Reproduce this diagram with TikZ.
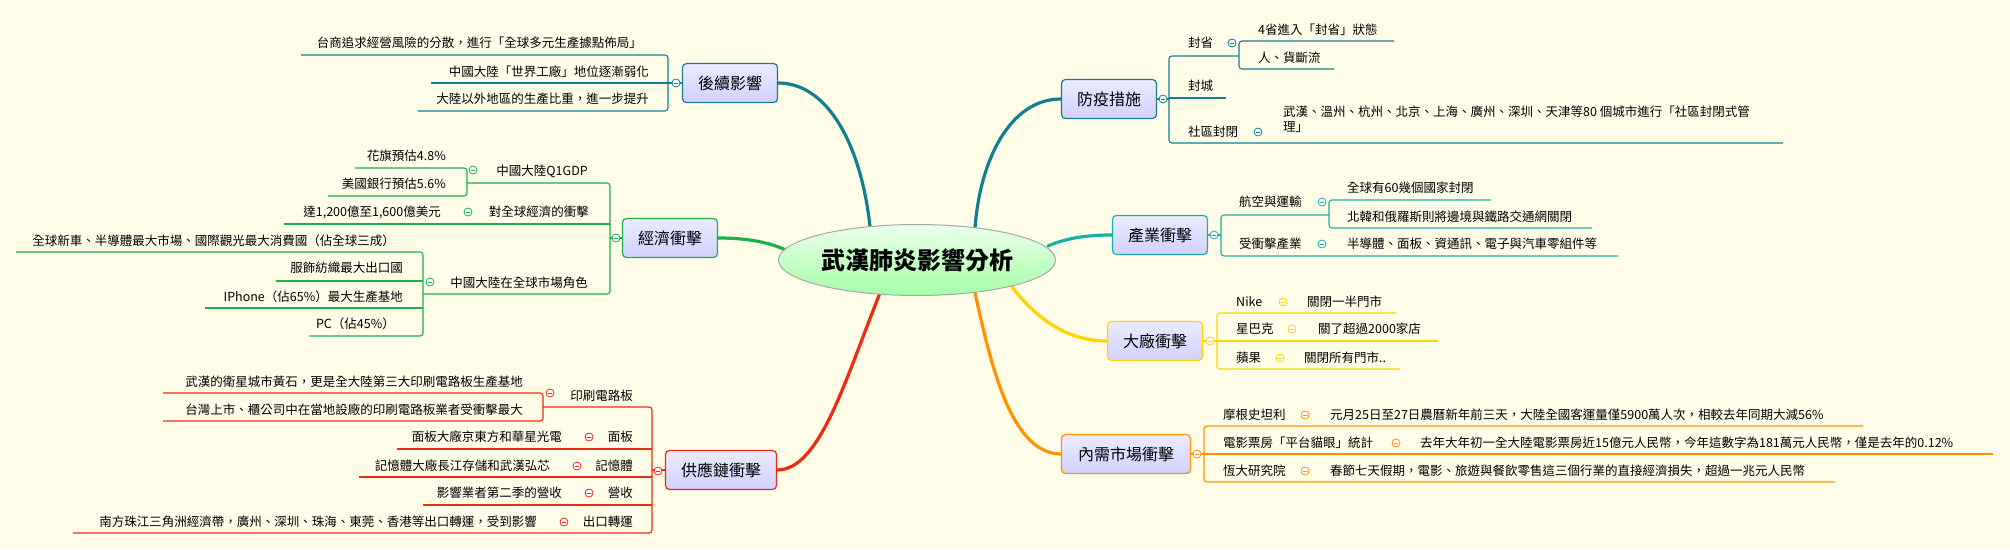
\documentclass[tikz,border=0pt]{standalone}
\usepackage{fontspec}
\setmainfont{Noto Sans CJK TC}
\usetikzlibrary{shapes.geometric}
\definecolor{bg}{HTML}{FFFDE8}
\definecolor{cA}{HTML}{137F8E}
\definecolor{cB}{HTML}{1DB04A}
\definecolor{cC}{HTML}{EE2A10}
\definecolor{cD}{HTML}{137F8E}
\definecolor{cE}{HTML}{18AFA6}
\definecolor{cF}{HTML}{FFD400}
\definecolor{cG}{HTML}{FF9200}
\tikzset{
 leaf/.style={inner sep=0pt, font=\fontsize{12.5}{15}\selectfont},
 branchbox/.style={draw=#1, line width=1.2pt, rounded corners=4pt, minimum width=95pt, minimum height=39pt,
   top color=white!92!blue, bottom color=blue!18!white, font=\fontsize{16}{18}\selectfont},
 mk/.style={circle, draw=#1, fill=white, minimum size=8pt, inner sep=0pt, line width=0.8pt,
   path picture={\draw[#1,line width=0.8pt] ([xshift=-2pt]path picture bounding box.center) -- ([xshift=2pt]path picture bounding box.center);}},
 ln/.style={draw=#1, line width=1.1pt, rounded corners=3pt},
 mainln/.style={draw=#1, line width=3.2pt, line cap=round}
}
\begin{document}
\begin{tikzpicture}[x=1pt,y=-1pt]
\fill[bg] (0,0) rectangle (2010,549);
\useasboundingbox (0,0) rectangle (2010,549);

% ---------- main connectors ----------
\coordinate (eA) at (870,227); \coordinate (eB) at (786,250); \coordinate (eC) at (880,293);
\coordinate (eD) at (975,228); \coordinate (eE) at (1048,246); \coordinate (eF) at (1012,287); \coordinate (eG) at (975,293);
\node[branchbox=cA] (A) at (730,83) {後續影響};
\node[branchbox=cB] (B) at (670,238) {經濟衝擊};
\node[branchbox=cC, minimum width=111pt] (C) at (721,470) {供應鏈衝擊};
\node[branchbox=cD] (D) at (1109,99) {防疫措施};
\node[branchbox=cE] (E) at (1160,235) {產業衝擊};
\node[branchbox=cF] (F) at (1155,341) {大廠衝擊};
\node[branchbox=cG, minimum width=129pt] (G) at (1126,454) {內需市場衝擊};
\draw[mainln=cA] (A.east) .. controls (830,83) and (862,150) .. (eA);
\draw[mainln=cB] (B.east) .. controls (750,238) and (770,243) .. (eB);
\draw[mainln=cC] (C.east) .. controls (820,470) and (845,380) .. (eC);
\draw[mainln=cD] (D.west) .. controls (1010,99) and (980,160) .. (eD);
\draw[mainln=cE] (E.west) .. controls (1080,235) and (1062,240) .. (eE);
\draw[mainln=cF] (F.west) .. controls (1060,341) and (1030,310) .. (eF);
\draw[mainln=cG] (G.west) .. controls (1010,454) and (990,360) .. (eG);
\node[ellipse, draw=gray!70, line width=1pt, minimum width=277pt, minimum height=71pt, inner sep=0pt,
  top color=green!8!white, bottom color=green!35!white, font=\fontsize{24}{26}\selectfont\bfseries] (root) at (917,260) {武漢肺炎影響分析};

% ---------- 後續影響 ----------
\draw[ln=cA] (301,55) -- (668,55) -- (668,111) -- (418,111);
\draw[ln=cA] (431,83) -- (A.west);
\node[mk=cA] at (676,83) {};
\node[leaf, anchor=east] (a1) at (642,43) {台商追求經營風險的分散，進行「全球多元生產據點佈局」};
\node[leaf, anchor=east] (a2) at (649,72) {中國大陸「世界工廠」地位逐漸弱化};
\node[leaf, anchor=east] (a3) at (649,99) {大陸以外地區的生產比重，進一步提升};

% ---------- 經濟衝擊 ----------
\draw[ln=cB] (467,183) -- (610,183) -- (610,294) -- (423,294);
\draw[ln=cB] (284,224) -- (610,224);
\draw[ln=cB] (610,238) -- (B.west);
\node[mk=cB] at (616,238) {};
\node[leaf, anchor=east] (b1) at (588,171) {中國大陸Q1GDP};
\node[mk=cB] at (473,170) {};
\draw[ln=cB] (355,168) -- (467,168) -- (467,196) -- (328,196);
\node[leaf, anchor=east] (b11) at (446,156) {花旗預估4.8\%};
\node[leaf, anchor=east] (b12) at (446,184) {美國銀行預估5.6\%};
\node[leaf, anchor=east] (b2) at (589,212) {對全球經濟的衝擊};
\node[mk=cB] at (468,212) {};
\node[leaf, anchor=east] (b21) at (441,212) {達1,200億至1,600億美元};
\node[leaf, anchor=east] (b3) at (588,283) {中國大陸在全球市場角色};
\node[mk=cB] at (430,282) {};
\draw[ln=cB] (16,252) -- (423,252) -- (423,336) -- (309,336);
\draw[ln=cB] (276,281) -- (423,281);
\draw[ln=cB] (205,308) -- (423,308);
\node[leaf, anchor=east] (b31) at (395,241) {全球新車、半導體最大市場、國際觀光最大消費國（佔全球三成）};
\node[leaf, anchor=east] (b32) at (403,268) {服飾紡織最大出口國};
\node[leaf, anchor=east] (b33) at (403,297) {IPhone（佔65\%）最大生產基地};
\node[leaf, anchor=east] (b34) at (395,324) {PC（佔45\%）};

% ---------- 供應鏈衝擊 ----------
\draw[ln=cC] (543,407) -- (652,407) -- (652,533) -- (73,533);
\draw[ln=cC] (397,449) -- (652,449);
\draw[ln=cC] (359,477) -- (652,477);
\draw[ln=cC] (423,505) -- (652,505);
\draw[ln=cC] (652,470) -- (C.west);
\node[mk=cC] at (658,471) {};
\node[leaf, anchor=east] (c1) at (633,396) {印刷電路板};
\node[mk=cC] at (550,393) {};
\draw[ln=cC] (163,393) -- (543,393) -- (543,421) -- (163,421);
\node[leaf, anchor=east] (c11) at (523,382) {武漢的衛星城市黃石，更是全大陸第三大印刷電路板生產基地};
\node[leaf, anchor=east] (c12) at (523,410) {台灣上市、櫃公司中在當地設廠的印刷電路板業者受衝擊最大};
\node[leaf, anchor=east] (c2) at (633,437) {面板};
\node[mk=cC] at (589,437) {};
\node[leaf, anchor=east] (c21) at (562,437) {面板大廠京東方和華星光電};
\node[leaf, anchor=east] (c3) at (633,466) {記憶體};
\node[mk=cC] at (577,466) {};
\node[leaf, anchor=east] (c31) at (550,466) {記憶體大廠長江存儲和武漢弘芯};
\node[leaf, anchor=east] (c4) at (633,493) {營收};
\node[mk=cC] at (589,493) {};
\node[leaf, anchor=east] (c41) at (562,493) {影響業者第二季的營收};
\node[leaf, anchor=east] (c5) at (633,522) {出口轉運};
\node[mk=cC] at (564,522) {};
\node[leaf, anchor=east] (c51) at (537,522) {南方珠江三角洲經濟帶，廣州、深圳、珠海、東莞、香港等出口轉運，受到影響};

% ---------- 防疫措施 ----------
\draw[ln=cD] (D.east) -- (1169,99);
\node[mk=cD] at (1163,99) {};
\draw[ln=cD] (1239,56) -- (1169,56) -- (1169,143) -- (1783,143);
\draw[ln=cD] (1169,98) -- (1226,98);
\node[leaf, anchor=west] (d1) at (1188,43) {封省};
\node[mk=cD] at (1232,43) {};
\draw[ln=cD] (1394,41) -- (1239,41) -- (1239,69) -- (1334,69);
\node[leaf, anchor=west] (d11) at (1258,30) {4省進入「封省」狀態};
\node[leaf, anchor=west] (d12) at (1258,58) {人、貨斷流};
\node[leaf, anchor=west] (d2) at (1188,86) {封城};
\node[leaf, anchor=west] (d3) at (1188,132) {社區封閉};
\node[mk=cD] at (1258,132) {};
\node[leaf, anchor=north west, align=left] (d31) at (1283,106) {武漢、溫州、杭州、北京、上海、廣州、深圳、天津等80 個城市進行「社區封閉式管\\理」};

% ---------- 產業衝擊 ----------
\draw[ln=cE] (E.east) -- (1221,235);
\node[mk=cE] at (1214,235) {};
\draw[ln=cE] (1329,215) -- (1221,215) -- (1221,256) -- (1618,256);
\node[leaf, anchor=west] (e1) at (1239,202) {航空與運輸};
\node[mk=cE] at (1322,202) {};
\draw[ln=cE] (1491,200) -- (1329,200) -- (1329,228) -- (1592,228);
\node[leaf, anchor=west] (e11) at (1347,188) {全球有60幾個國家封閉};
\node[leaf, anchor=west] (e12) at (1347,217) {北韓和俄羅斯則將邊境與鐵路交通網關閉};
\node[leaf, anchor=west] (e2) at (1239,244) {受衝擊產業};
\node[mk=cE] at (1322,244) {};
\node[leaf, anchor=west] (e21) at (1347,244) {半導體、面板、資通訊、電子與汽車零組件等};

% ---------- 大廠衝擊 ----------
\draw[ln=cF] (F.east) -- (1217,341);
\node[mk=cF] at (1210,341) {};
\draw[ln=cF] (1396,313) -- (1217,313) -- (1217,369) -- (1400,369);
\draw[ln=cF] (1217,341) -- (1438,341);
\node[leaf, anchor=west] (f1) at (1236,302) {Nike};
\node[mk=cF] at (1283,302) {};
\node[leaf, anchor=west] (f11) at (1307,302) {關閉一半門市};
\node[leaf, anchor=west] (f2) at (1236,329) {星巴克};
\node[mk=cF] at (1292,329) {};
\node[leaf, anchor=west] (f21) at (1318,329) {關了超過2000家店};
\node[leaf, anchor=west] (f3) at (1236,358) {蘋果};
\node[mk=cF] at (1280,358) {};
\node[leaf, anchor=west] (f31) at (1304,358) {關閉所有門市..};

% ---------- 內需市場衝擊 ----------
\draw[ln=cG] (G.east) -- (1204,454);
\node[mk=cG] at (1197,454) {};
\draw[ln=cG] (1863,426) -- (1204,426) -- (1204,482) -- (1835,482);
\draw[ln=cG] (1204,454) -- (1993,454);
\node[leaf, anchor=west] (g1) at (1223,415) {摩根史坦利};
\node[mk=cG] at (1305,415) {};
\node[leaf, anchor=west] (g11) at (1330,415) {元月25日至27日農曆新年前三天，大陸全國客運量僅5900萬人次，相較去年同期大減56\%};
\node[leaf, anchor=west] (g2) at (1223,443) {電影票房「平台貓眼」統計};
\node[mk=cG] at (1396,443) {};
\node[leaf, anchor=west] (g21) at (1420,443) {去年大年初一全大陸電影票房近15億元人民幣，今年這數字為181萬元人民幣，僅是去年的0.12\%};
\node[leaf, anchor=west] (g3) at (1223,471) {恆大研究院};
\node[mk=cG] at (1305,471) {};
\node[leaf, anchor=west] (g31) at (1330,471) {春節七天假期，電影、旅遊與餐飲零售這三個行業的直接經濟損失，超過一兆元人民幣};
\end{tikzpicture}
\end{document}
